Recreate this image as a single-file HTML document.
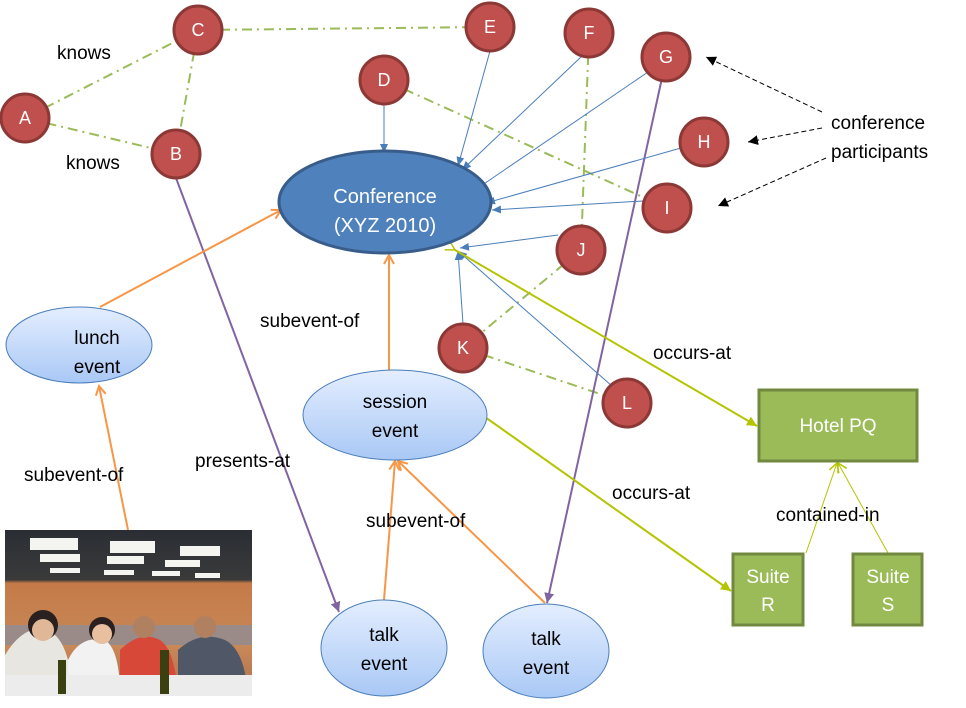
<!DOCTYPE html>
<html><head><meta charset="utf-8"><style>
html,body{margin:0;padding:0;background:#fff;}
svg{display:block;font-family:"Liberation Sans","DejaVu Sans",sans-serif;}
</style></head><body>
<svg width="966" height="708" viewBox="0 0 966 708" xmlns="http://www.w3.org/2000/svg">
<defs>
<linearGradient id="lb" x1="0" y1="0" x2="0" y2="1"><stop offset="0" stop-color="#e4eeff"/><stop offset="1" stop-color="#a9c8f5"/></linearGradient>
<linearGradient id="wall" x1="0" y1="0" x2="0" y2="1"><stop offset="0" stop-color="#2a2e34"/><stop offset="0.3" stop-color="#3a3a3a"/><stop offset="0.32" stop-color="#c47a48"/><stop offset="0.7" stop-color="#c88858"/><stop offset="1" stop-color="#b07050"/></linearGradient>
<marker id="ab" markerWidth="10" markerHeight="10" refX="9" refY="5" orient="auto" markerUnits="userSpaceOnUse"><path d="M0,1 L9,5 L0,9 z" fill="#4a7ebb"/></marker>
<marker id="ao" markerWidth="12" markerHeight="12" refX="10" refY="6" orient="auto" markerUnits="userSpaceOnUse"><path d="M1,1 L10,6 L1,11" fill="none" stroke="#f79646" stroke-width="2"/></marker>
<marker id="ap" markerWidth="12" markerHeight="12" refX="10" refY="6" orient="auto" markerUnits="userSpaceOnUse"><path d="M0,1 L10,6 L0,11 z" fill="#8064a2"/></marker>
<marker id="ay" markerWidth="12" markerHeight="12" refX="10" refY="6" orient="auto" markerUnits="userSpaceOnUse"><path d="M0,1 L10,6 L0,11 z" fill="#b5c400"/></marker>
<marker id="ay2" markerWidth="12" markerHeight="12" refX="10" refY="6" orient="auto" markerUnits="userSpaceOnUse"><path d="M1,1 L10,6 L1,11" fill="none" stroke="#b5c400" stroke-width="1.5"/></marker>
<marker id="ak" markerWidth="12" markerHeight="12" refX="10" refY="6" orient="auto" markerUnits="userSpaceOnUse"><path d="M0,1 L10,6 L0,11 z" fill="#000"/></marker>
</defs>

<g stroke="#9bbb59" stroke-width="2" stroke-dasharray="10,5,2,5" fill="none">
<line x1="25" y1="118" x2="198" y2="30"/>
<line x1="25" y1="118" x2="176" y2="154"/>
<line x1="198" y1="30" x2="176" y2="154"/>
<line x1="198" y1="30" x2="490" y2="27"/>
<line x1="384" y1="80" x2="667" y2="208"/>
<line x1="589" y1="33" x2="581" y2="250"/>
<line x1="581" y1="250" x2="463" y2="348"/>
<line x1="463" y1="348" x2="627" y2="403"/>
</g>

<line x1="176" y1="178" x2="339" y2="612" stroke="#8064a2" stroke-width="2" marker-end="url(#ap)"/>
<line x1="662" y1="78" x2="547" y2="603" stroke="#8064a2" stroke-width="2" marker-end="url(#ap)"/>

<g stroke="#4a7ebb" stroke-width="1" marker-end="url(#ab)">
<line x1="384" y1="104" x2="384" y2="153"/>
<line x1="490" y1="51" x2="458" y2="166"/>
<line x1="582" y1="56" x2="462" y2="170"/>
<line x1="648" y1="72" x2="475" y2="190"/>
<line x1="681" y1="148" x2="486" y2="203"/>
<line x1="643" y1="201" x2="492" y2="210"/>
<line x1="558" y1="235" x2="460" y2="248"/>
<line x1="463" y1="324" x2="458" y2="251"/>
<line x1="612" y1="386" x2="458" y2="251"/>
</g>

<g stroke="#f79646" stroke-width="2" marker-end="url(#ao)" fill="none">
<line x1="100" y1="307" x2="281" y2="210"/>
<line x1="389" y1="372" x2="389" y2="255"/>
<line x1="128" y1="530" x2="99" y2="386"/>
<line x1="384" y1="600" x2="395" y2="461"/>
<line x1="545" y1="603" x2="398" y2="461"/>
</g>

<line x1="455" y1="250" x2="757" y2="426" stroke="#b5c400" stroke-width="2" marker-end="url(#ay)" marker-start="url(#ay2)"/>
<line x1="485" y1="417" x2="731" y2="591" stroke="#b5c400" stroke-width="2" marker-end="url(#ay)"/>
<line x1="806" y1="553" x2="837" y2="463" stroke="#b5c400" stroke-width="1" marker-end="url(#ay2)"/>
<line x1="888" y1="553" x2="838" y2="463" stroke="#b5c400" stroke-width="1" marker-end="url(#ay2)"/>

<g stroke="#000" stroke-width="1" stroke-dasharray="5,3" marker-end="url(#ak)">
<line x1="822" y1="112" x2="706" y2="57"/>
<line x1="822" y1="128" x2="748" y2="142"/>
<line x1="826" y1="158" x2="718" y2="206"/>
</g>

<ellipse cx="385" cy="202" rx="106" ry="51" fill="#4f81bd" stroke="#385d8a" stroke-width="3"/>
<text x="385" y="203" font-size="20" fill="#fff" text-anchor="middle">Conference</text>
<text x="385" y="232" font-size="20" fill="#fff" text-anchor="middle">(XYZ 2010)</text>

<g fill="url(#lb)" stroke="#4a7ebb" stroke-width="1">
<ellipse cx="79" cy="345" rx="73" ry="38"/>
<ellipse cx="395" cy="415" rx="92" ry="45"/>
<ellipse cx="384" cy="648" rx="63" ry="48"/>
<ellipse cx="546" cy="651" rx="63" ry="47"/>
</g>
<g font-size="19" fill="#000" text-anchor="middle">
<text x="97" y="344">lunch</text><text x="97" y="373">event</text>
<text x="395" y="408">session</text><text x="395" y="437">event</text>
<text x="384" y="641">talk</text><text x="384" y="670">event</text>
<text x="546" y="645">talk</text><text x="546" y="674">event</text>
</g>

<g fill="#9bbb59" stroke="#71893f" stroke-width="3">
<rect x="759" y="390" width="158" height="71"/>
<rect x="733" y="554" width="70" height="71"/>
<rect x="853" y="554" width="69" height="71"/>
</g>
<g font-size="19" fill="#fff" text-anchor="middle">
<text x="838" y="432">Hotel PQ</text>
<text x="768" y="583">Suite</text><text x="768" y="611">R</text>
<text x="888" y="583">Suite</text><text x="888" y="611">S</text>
</g>

<g fill="#c0504d" stroke="#8c3836" stroke-width="3">
<circle cx="198" cy="30" r="24"/><circle cx="490" cy="27" r="24"/><circle cx="589" cy="33" r="24"/>
<circle cx="666" cy="57" r="24"/><circle cx="384" cy="80" r="24"/><circle cx="25" cy="118" r="24"/>
<circle cx="176" cy="154" r="24"/><circle cx="704" cy="142" r="24"/><circle cx="667" cy="208" r="24"/>
<circle cx="581" cy="250" r="24"/><circle cx="463" cy="348" r="24"/><circle cx="627" cy="403" r="24"/>
</g>
<g font-size="18" fill="#fff" text-anchor="middle">
<text x="198" y="36">C</text><text x="490" y="33">E</text><text x="589" y="39">F</text>
<text x="666" y="63">G</text><text x="384" y="86">D</text><text x="25" y="124">A</text>
<text x="176" y="160">B</text><text x="704" y="148">H</text><text x="667" y="214">I</text>
<text x="581" y="256">J</text><text x="463" y="354">K</text><text x="627" y="409">L</text>
</g>

<g font-size="19" fill="#000">
<text x="57" y="59">knows</text>
<text x="66" y="169">knows</text>
<text x="831" y="129">conference</text>
<text x="831" y="158">participants</text>
<text x="260" y="327">subevent-of</text>
<text x="653" y="359">occurs-at</text>
<text x="24" y="481">subevent-of</text>
<text x="195" y="467">presents-at</text>
<text x="612" y="499">occurs-at</text>
<text x="366" y="527">subevent-of</text>
<text x="776" y="521">contained-in</text>
</g>

<g>
<rect x="5" y="530" width="247" height="166" fill="url(#wall)"/>
<g fill="#f4f4f0">
<rect x="30" y="538" width="48" height="12"/><rect x="110" y="541" width="45" height="12"/><rect x="180" y="546" width="40" height="10"/>
<rect x="40" y="554" width="40" height="8"/><rect x="107" y="556" width="37" height="8"/><rect x="165" y="560" width="35" height="7"/>
<rect x="50" y="568" width="30" height="5"/><rect x="104" y="570" width="30" height="5"/><rect x="152" y="571" width="28" height="5"/><rect x="195" y="573" width="25" height="5"/>
</g>
<rect x="5" y="625" width="247" height="20" fill="#9a8a88"/>
<path d="M5,655 Q20,630 40,628 Q60,630 68,660 L68,696 L5,696z" fill="#e8e6e0"/>
<circle cx="43" cy="625" r="15" fill="#2a2020"/><circle cx="43" cy="630" r="11" fill="#e0b898"/>
<path d="M68,660 Q80,635 105,640 Q120,650 120,696 L68,696z" fill="#f2f2f2"/>
<circle cx="102" cy="630" r="13" fill="#2a2020"/><circle cx="102" cy="634" r="10" fill="#e8c0a0"/>
<path d="M120,650 Q140,630 160,640 Q175,650 178,696 L120,696z" fill="#d84838"/>
<circle cx="144" cy="627" r="11" fill="#b08060"/>
<path d="M178,650 Q200,630 225,640 Q245,650 248,696 L178,696z" fill="#505868"/>
<circle cx="205" cy="627" r="11" fill="#b08060"/>
<rect x="5" y="675" width="247" height="21" fill="#ececec"/>
<rect x="58" y="660" width="8" height="34" fill="#3a4010"/><rect x="160" y="650" width="9" height="44" fill="#3a4010"/>
</g>
</svg>
</body></html>
